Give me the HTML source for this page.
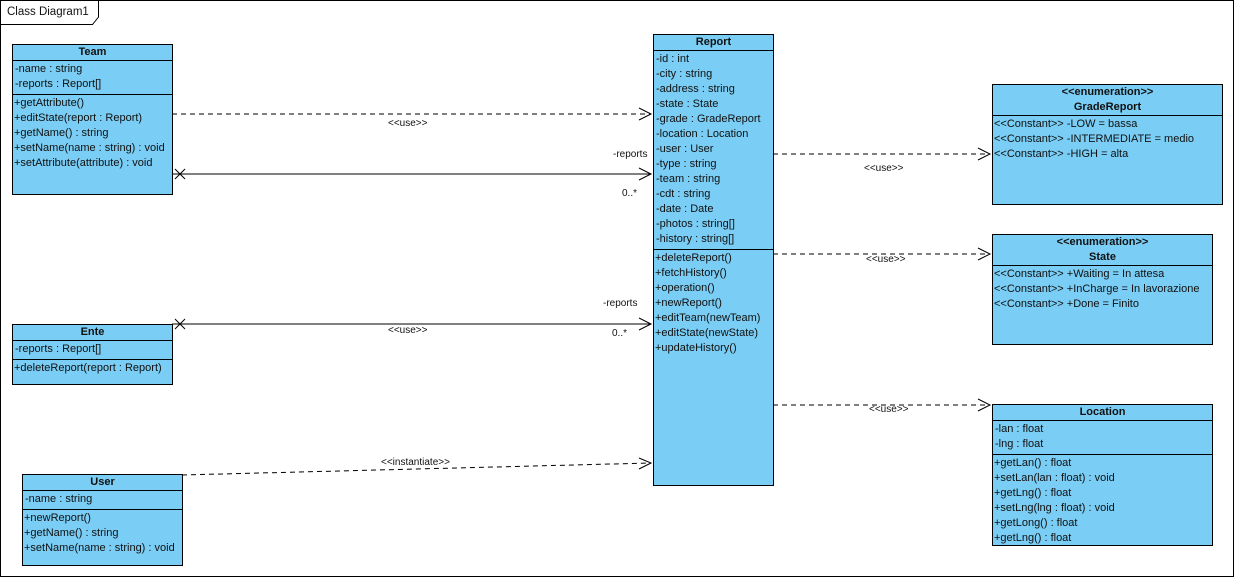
<!DOCTYPE html>
<html><head><meta charset="utf-8"><style>
body{margin:0;width:1236px;height:578px;background:#fff;position:relative;overflow:hidden;font-family:"Liberation Sans",Arial,sans-serif;font-size:11px;color:#111}
.box{position:absolute;background:#7acdf4;border:1px solid #000;box-sizing:border-box;overflow:hidden}
.h{text-align:center;font-weight:bold;line-height:15px;border-bottom:1px solid #000}
.s{border-bottom:1px solid #000;padding:1px 0 2px 1px}
.r{line-height:15px;white-space:nowrap;padding-left:1px}
.lbl{position:absolute;font-size:10px;white-space:nowrap}
svg{position:absolute;left:0;top:0}
</style></head><body>
<svg width="1236" height="578">
<path d="M0.5 0.5H1233.5V576.5H0.5Z" fill="none" stroke="#000"/>
<path d="M0.5 24.5H92.5L98.5 17V0.5" fill="none" stroke="#000"/>
<g stroke="#000" fill="none">
<path d="M172 114H651" stroke-dasharray="5,4"/>
<path d="M639 108L651 114L639 120"/>
<path d="M172 174H651"/>
<path d="M639 168L651 174L639 180"/>
<path d="M175 169L185 179M185 169L175 179"/>
<path d="M172 324H651"/>
<path d="M639 318L651 324L639 330"/>
<path d="M175 319L185 329M185 319L175 329"/>
<path d="M182 475L651 463" stroke-dasharray="5,4"/>
<path d="M639 458L651 463L639 469"/>
<path d="M773 154H990" stroke-dasharray="5,4"/>
<path d="M978 148L990 154L978 160"/>
<path d="M773 254H990" stroke-dasharray="5,4"/>
<path d="M978 248L990 254L978 260"/>
<path d="M773 405H990" stroke-dasharray="5,4"/>
<path d="M978 399L990 405L978 411"/>
</g>
</svg>
<div class="lbl" style="left:7px;top:6px;font-size:11.5px">Class Diagram1</div>
<div class="lbl" style="left:388px;top:118px">&lt;&lt;use&gt;&gt;</div>
<div class="lbl" style="left:613px;top:149px">-reports</div>
<div class="lbl" style="left:622px;top:188px">0..*</div>
<div class="lbl" style="left:603px;top:298px">-reports</div>
<div class="lbl" style="left:612px;top:328px">0..*</div>
<div class="lbl" style="left:388px;top:325px">&lt;&lt;use&gt;&gt;</div>
<div class="lbl" style="left:381px;top:457px">&lt;&lt;instantiate&gt;&gt;</div>
<div class="lbl" style="left:864px;top:163px">&lt;&lt;use&gt;&gt;</div>
<div class="lbl" style="left:866px;top:254px">&lt;&lt;use&gt;&gt;</div>
<div class="lbl" style="left:869px;top:404px">&lt;&lt;use&gt;&gt;</div>

<div class="box" style="left:12px;top:44px;width:161px;height:151px">
<div class="h">Team</div>
<div class="s"><div class="r">-name : string</div><div class="r">-reports : Report[]</div></div>
<div style="padding-top:1px"><div class="r">+getAttribute()</div><div class="r">+editState(report : Report)</div><div class="r">+getName() : string</div><div class="r">+setName(name : string) : void</div><div class="r">+setAttribute(attribute) : void</div></div>
</div>

<div class="box" style="left:12px;top:324px;width:161px;height:61px">
<div class="h">Ente</div>
<div class="s"><div class="r">-reports : Report[]</div></div>
<div style="padding-top:1px"><div class="r">+deleteReport(report : Report)</div></div>
</div>

<div class="box" style="left:22px;top:474px;width:161px;height:92px">
<div class="h">User</div>
<div class="s"><div class="r">-name : string</div></div>
<div style="padding-top:1px"><div class="r">+newReport()</div><div class="r">+getName() : string</div><div class="r">+setName(name : string) : void</div></div>
</div>

<div class="box" style="left:653px;top:34px;width:121px;height:452px">
<div class="h">Report</div>
<div class="s"><div class="r">-id : int</div><div class="r">-city : string</div><div class="r">-address : string</div><div class="r">-state : State</div><div class="r">-grade : GradeReport</div><div class="r">-location : Location</div><div class="r">-user : User</div><div class="r">-type : string</div><div class="r">-team : string</div><div class="r">-cdt : string</div><div class="r">-date : Date</div><div class="r">-photos : string[]</div><div class="r">-history : string[]</div></div>
<div style="padding-top:1px"><div class="r">+deleteReport()</div><div class="r">+fetchHistory()</div><div class="r">+operation()</div><div class="r">+newReport()</div><div class="r">+editTeam(newTeam)</div><div class="r">+editState(newState)</div><div class="r">+updateHistory()</div></div>
</div>

<div class="box" style="left:992px;top:84px;width:231px;height:121px">
<div class="h">&lt;&lt;enumeration&gt;&gt;<br>GradeReport</div>
<div style="padding-top:1px"><div class="r">&lt;&lt;Constant&gt;&gt; -LOW = bassa</div><div class="r">&lt;&lt;Constant&gt;&gt; -INTERMEDIATE = medio</div><div class="r">&lt;&lt;Constant&gt;&gt; -HIGH = alta</div></div>
</div>

<div class="box" style="left:992px;top:234px;width:221px;height:111px">
<div class="h">&lt;&lt;enumeration&gt;&gt;<br>State</div>
<div style="padding-top:1px"><div class="r">&lt;&lt;Constant&gt;&gt; +Waiting = In attesa</div><div class="r">&lt;&lt;Constant&gt;&gt; +InCharge = In lavorazione</div><div class="r">&lt;&lt;Constant&gt;&gt; +Done = Finito</div></div>
</div>

<div class="box" style="left:992px;top:404px;width:221px;height:142px">
<div class="h">Location</div>
<div class="s"><div class="r">-lan : float</div><div class="r">-lng : float</div></div>
<div style="padding-top:1px"><div class="r">+getLan() : float</div><div class="r">+setLan(lan : float) : void</div><div class="r">+getLng() : float</div><div class="r">+setLng(lng : float) : void</div><div class="r">+getLong() : float</div><div class="r">+getLng() : float</div></div>
</div>
</body></html>
